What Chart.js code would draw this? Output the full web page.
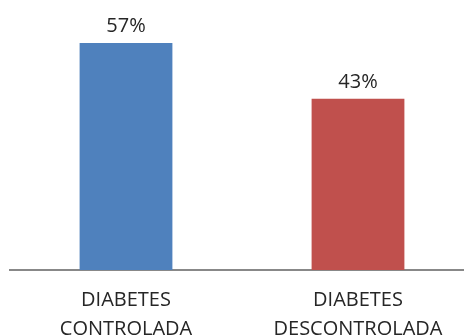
<!DOCTYPE html>
<html><head><meta charset="utf-8">
<script src="https://cdn.jsdelivr.net/npm/chart.js@4/dist/chart.umd.min.js"></script>
<style>html,body{margin:0;padding:0;background:#fff;overflow:hidden}#wrap{width:474px;height:360px;position:relative}</style>
</head><body><div id="wrap"><canvas id="c"></canvas></div>
<script>
const categories = [["DIABETES","CONTROLADA"],["DIABETES","DESCONTROLADA"]];
const values = [57, 43];
const valueLabels = ["57%", "43%"];
const colors = ["#4F81BD", "#C0504D"];

const labelPlugin = {
  id: 'vals',
  afterDatasetsDraw(chart) {
    const ctx = chart.ctx;
    const meta = chart.getDatasetMeta(0);
    ctx.save();
    ctx.font = '20px "Open Sans", sans-serif';
    ctx.fillStyle = '#262626';
    ctx.textAlign = 'center';
    ctx.textBaseline = 'alphabetic';
    meta.data.forEach((bar, i) => {
      ctx.fillText(valueLabels[i], bar.x, bar.y - 11);
    });
    ctx.restore();
  }
};

new Chart(document.getElementById('c'), {
  type: 'bar',
  data: { labels: categories, datasets: [{ data: values, backgroundColor: colors, borderWidth: 0, barPercentage: 0.4, categoryPercentage: 1 }] },
  options: {
    responsive: true, maintainAspectRatio: false, animation: false,
    layout: { padding: { left: 10, right: 0, top: 31, bottom: 0 } },
    plugins: { legend: { display: false }, tooltip: { enabled: false } },
    scales: {
      x: {
        grid: { display: false, drawTicks: false },
        border: { display: true, color: '#888888', width: 2 },
        ticks: { color: '#262626', font: { family: '"Open Sans", sans-serif', size: 20, lineHeight: 1.45 }, padding: 16, maxRotation: 0, autoSkip: false }
      },
      y: { display: false, min: 0, max: 60 }
    }
  },
  plugins: [labelPlugin]
});
</script></body></html>
